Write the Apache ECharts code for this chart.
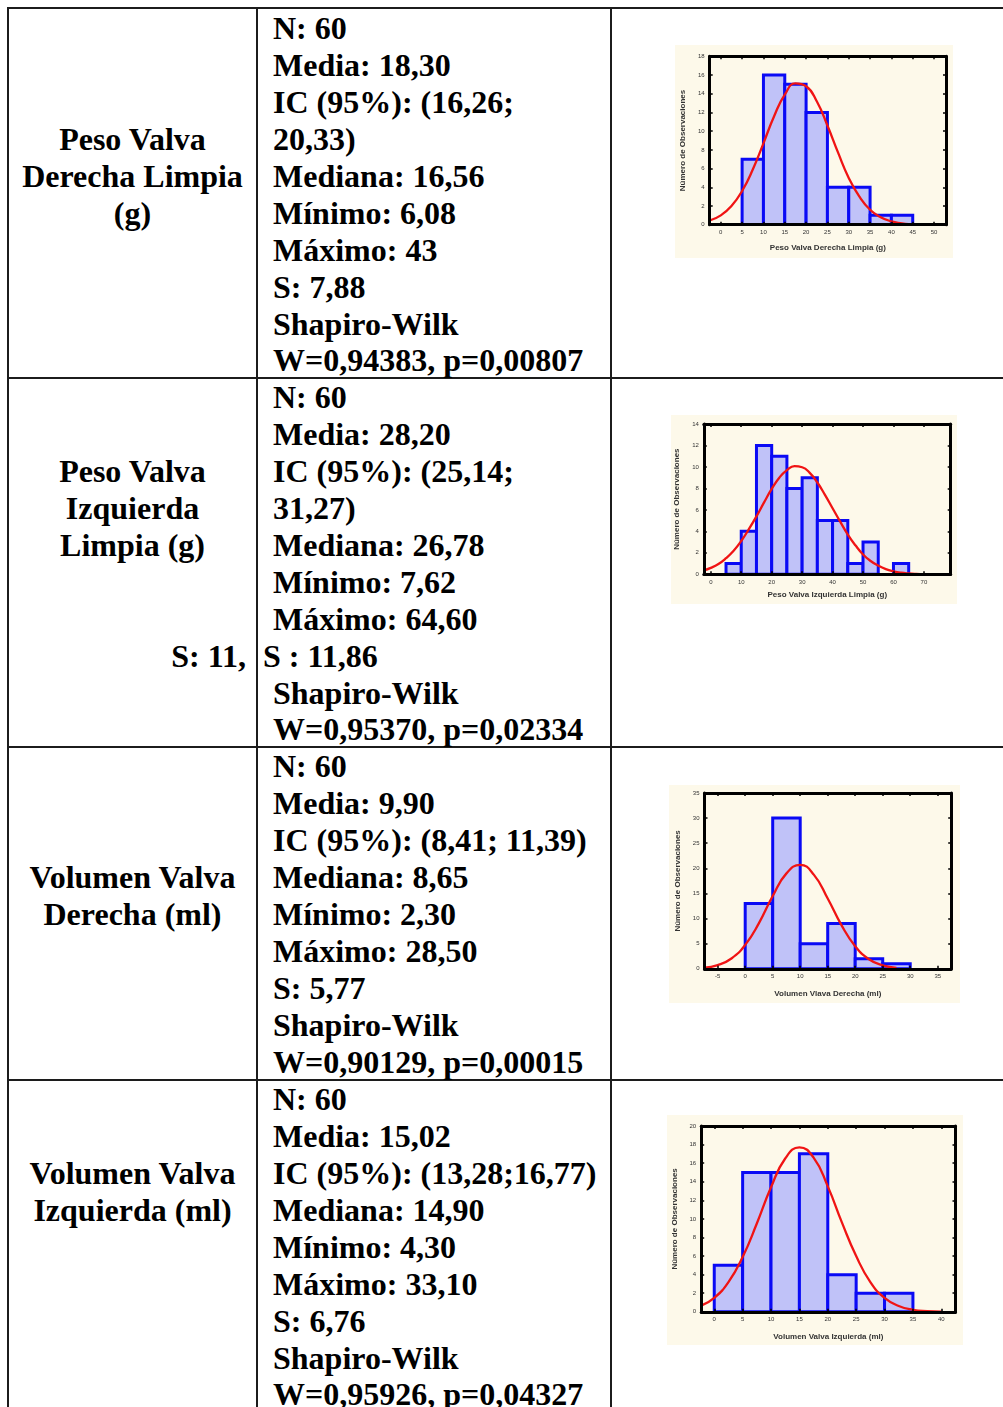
<!DOCTYPE html>
<html>
<head>
<meta charset="utf-8">
<script src="https://cdn.jsdelivr.net/npm/echarts@6/dist/echarts.min.js"></script>
<style>
  html, body { margin: 0; padding: 0; background: #fff; }
  body { width: 1003px; height: 1407px; position: relative; overflow: hidden; }
  .rule { position: absolute; background: #1c1c1c; }
  .line { position: absolute; font-family: "Liberation Serif", "Times New Roman", serif; font-weight: bold;
          font-size: 32px; line-height: 36.9px; height: 36.9px; color: #000; white-space: pre; }
  .plot { position: absolute; background: #fdf9ea; }
</style>
</head>
<body>
<div id="page"></div>
<script>
// ---- statistics text (middle column) ----
const statsPVD = ["N: 60", "Media: 18,30", "IC (95%): (16,26;", "20,33)", "Mediana: 16,56", "Mínimo: 6,08",
                  "Máximo: 43", "S: 7,88", "Shapiro-Wilk", "W=0,94383, p=0,00807"];
const statsPVI = ["N: 60", "Media: 28,20", "IC (95%): (25,14;", "31,27)", "Mediana: 26,78", "Mínimo: 7,62",
                  "Máximo: 64,60", "S : 11,86", "Shapiro-Wilk", "W=0,95370, p=0,02334"];
const statsVVD = ["N: 60", "Media: 9,90", "IC (95%): (8,41; 11,39)", "Mediana: 8,65", "Mínimo: 2,30",
                  "Máximo: 28,50", "S: 5,77", "Shapiro-Wilk", "W=0,90129, p=0,00015"];
const statsVVI = ["N: 60", "Media: 15,02", "IC (95%): (13,28;16,77)", "Mediana: 14,90", "Mínimo: 4,30",
                  "Máximo: 33,10", "S: 6,76", "Shapiro-Wilk", "W=0,95926, p=0,04327"];

// ---- variable names (left column), blank entries keep line alignment ----
const namePVD = ["", "", "", "Peso Valva", "Derecha Limpia", "(g)"];
const namePVI = ["", "", "Peso Valva", "Izquierda", "Limpia (g)"];
const extraPVI = "S: 11,";
const nameVVD = ["", "", "", "Volumen Valva", "Derecha (ml)"];
const nameVVI = ["", "", "Volumen Valva", "Izquierda (ml)"];

// ---- histograms: left bin edges and counts (bin width 5) ----
const binWidth = 5;
const leftsPVD = [5, 10, 15, 20, 25, 30, 35, 40];
const countsPVD = [7, 16, 15, 12, 4, 4, 1, 1];
const leftsPVI = [5, 10, 15, 20, 25, 30, 35, 40, 45, 50, 55, 60];
const countsPVI = [1, 4, 12, 11, 8, 9, 5, 5, 1, 3, 0, 1];
const leftsVVD = [0, 5, 10, 15, 20, 25];
const countsVVD = [13, 30, 5, 9, 2, 1];
const leftsVVI = [0, 5, 10, 15, 20, 25, 30];
const countsVVI = [5, 15, 15, 17, 4, 2, 2];

// ---- fitted normal curves, as read point by point ----
const curvePVD = [[-2.6, 0.45], [0, 1.0], [2.5, 2.0], [5, 3.6], [7.5, 5.9], [10, 8.7], [12.5, 11.6], [15, 13.9],
  [17.5, 15.1], [20, 14.8], [22.5, 13.2], [25, 10.6], [27.5, 7.7], [30, 5.0], [32.5, 3.0], [35, 1.6],
  [37.5, 0.8], [40, 0.35], [42.5, 0.15], [44, 0.07]];
const curvePVI = [[-2.3, 0.37], [0, 0.6], [2.5, 0.96], [5, 1.5], [7.5, 2.2], [10, 3.1], [12.5, 4.2], [15, 5.4],
  [17.5, 6.7], [20, 7.95], [22.5, 9.0], [25, 9.7], [27.5, 10.07], [30, 9.97], [32.5, 9.45], [35, 8.55],
  [37.5, 7.4], [40, 6.15], [42.5, 4.9], [45, 3.7], [47.5, 2.7], [50, 1.85], [52.5, 1.24], [55, 0.8],
  [57.5, 0.48], [60, 0.28], [62.5, 0.15], [65, 0.08], [67.5, 0.04], [70, 0.02]];
const curveVVD = [[-7.4, 0.23], [-5, 0.74], [-2.5, 2.06], [0, 4.76], [2.5, 9.1], [5, 14.5], [7.5, 19.0],
  [10, 20.7], [12.5, 18.7], [15, 14.0], [17.5, 8.7], [20, 4.5], [22.5, 1.9], [25, 0.68], [27.5, 0.2]];
const curveVVI = [[-2.3, 0.66], [0, 1.5], [2.5, 3.2], [5, 5.9], [7.5, 9.5], [10, 13.4], [12.5, 16.5], [15, 17.7],
  [17.5, 16.6], [20, 13.5], [22.5, 9.6], [25, 6.0], [27.5, 3.2], [30, 1.5], [32.5, 0.63], [35, 0.22],
  [37.5, 0.07], [40, 0.02]];

// ---- axis tick labels ----
const xTicksPVD = [0, 5, 10, 15, 20, 25, 30, 35, 40, 45, 50];
const xTicksPVI = [0, 10, 20, 30, 40, 50, 60, 70];
const xTicksVVD = [-5, 0, 5, 10, 15, 20, 25, 30, 35];
const xTicksVVI = [0, 5, 10, 15, 20, 25, 30, 35, 40];
const yTitle = "Número de Observaciones";
const xTitlePVD = "Peso Valva Derecha Limpia (g)";
const xTitlePVI = "Peso Valva Izquierda Limpia (g)";
const xTitleVVD = "Volumen Vlava Derecha (ml)";
const xTitleVVI = "Volumen Valva Izquierda (ml)";

// ================= table layout =================
const page = document.getElementById('page');
function rule(x, y, w, h) {
  const d = document.createElement('div');
  d.className = 'rule';
  Object.assign(d.style, { left: x + 'px', top: y + 'px', width: w + 'px', height: h + 'px' });
  page.appendChild(d);
}
rule(7, 7, 996, 2);          // top edge
rule(7, 7, 2, 1400);         // left edge
rule(256, 7, 2, 1400);       // column separators
rule(610, 7, 2, 1400);
rule(7, 377, 996, 2);        // row separators
rule(7, 746, 996, 2);
rule(7, 1079, 996, 2);

const PITCH = 36.9;
function textLine(str, top, css) {
  const d = document.createElement('div');
  d.className = 'line';
  d.textContent = str;
  d.style.top = top + 'px';
  Object.assign(d.style, css);
  page.appendChild(d);
  return d;
}
function rowBlock(top, names, stats, statsShift) {
  names.forEach((s, i) => {
    if (s) textLine(s, top + i * PITCH, { left: '9px', width: '247px', textAlign: 'center' });
  });
  stats.forEach((s, i) => {
    const x = (statsShift && statsShift[i]) ? statsShift[i] : 273;
    textLine(s, top + i * PITCH, { left: x + 'px' });
  });
}
const rowTops = [10.3, 379.3, 748.3, 1081.2];
rowBlock(rowTops[0], namePVD, statsPVD);
rowBlock(rowTops[1], namePVI, statsPVI, { 7: 263 });
textLine(extraPVI, rowTops[1] + 7 * PITCH, { left: '9px', width: '237px', textAlign: 'right' });
rowBlock(rowTops[2], nameVVD, statsVVD);
rowBlock(rowTops[3], nameVVI, statsVVI);

// ================= histograms =================
const SANS = '"Liberation Sans", Arial, sans-serif';
function makePanel(x, y, w, h) {
  const d = document.createElement('div');
  d.className = 'plot';
  Object.assign(d.style, { left: x + 'px', top: y + 'px', width: w + 'px', height: h + 'px' });
  page.appendChild(d);
  return d;
}

function histOption(c) {
  const bins = c.lefts.map((x0, i) => [x0, x0 + binWidth, c.counts[i]]);
  const frame = { show: true, onZero: false, lineStyle: { color: '#000', width: 3 } };
  const tickX = { show: true, inside: true, length: 3, lineStyle: { color: '#000', width: 1.5 }, customValues: c.xTicks };
  const tickY = { show: true, inside: true, length: 3, lineStyle: { color: '#000', width: 1.5 } };
  const labelStyle = { fontFamily: SANS, fontSize: 6, color: '#333' };
  return {
    animation: false,
    grid: Object.assign({ containLabel: false, outerBoundsMode: 'none' }, c.grid),
    xAxis: [
      { type: 'value', min: c.xMin, max: c.xMax, position: 'bottom', z: 10,
        name: c.xTitle, nameLocation: 'middle', nameGap: c.xGap,
        nameTextStyle: { fontFamily: SANS, fontSize: 8, fontWeight: 'bold', color: '#333' },
        axisLine: frame, axisTick: tickX,
        axisLabel: Object.assign({ customValues: c.xTicks, margin: 5 }, labelStyle),
        splitLine: { show: false } },
      { type: 'value', min: c.xMin, max: c.xMax, position: 'top', z: 10,
        axisLine: frame, axisTick: tickX, axisLabel: { show: false }, splitLine: { show: false } }
    ],
    yAxis: [
      { type: 'value', min: 0, max: c.yMax, interval: c.yStep, position: 'left', z: 10,
        name: yTitle, nameLocation: 'middle', nameRotate: 90, nameGap: c.yGap,
        nameTextStyle: { fontFamily: SANS, fontSize: 8, fontWeight: 'bold', color: '#333' },
        axisLine: frame, axisTick: tickY,
        axisLabel: Object.assign({ margin: 5 }, labelStyle),
        splitLine: { show: false } },
      { type: 'value', min: 0, max: c.yMax, interval: c.yStep, position: 'right', z: 10,
        axisLine: frame, axisTick: tickY, axisLabel: { show: false }, splitLine: { show: false } }
    ],
    series: [
      { type: 'custom', xAxisIndex: 0, yAxisIndex: 0, z: 2, clip: true, data: bins,
        renderItem: function (params, api) {
          const n = api.value(2);
          if (!n) return null;
          const p0 = api.coord([api.value(0), n]);
          const p1 = api.coord([api.value(1), 0]);
          return { type: 'rect',
            shape: { x: p0[0], y: p0[1], width: p1[0] - p0[0], height: p1[1] - p0[1] },
            style: { fill: '#c0c2f8', stroke: '#0a0af5', lineWidth: 3 } };
        } },
      { type: 'line', xAxisIndex: 0, yAxisIndex: 0, z: 3, data: c.curve, smooth: true,
        showSymbol: false, symbol: 'none', lineStyle: { color: '#f01414', width: 2.3 } }
    ]
  };
}

const charts = [
  { box: [675, 45, 278, 213], grid: { left: 34.7, top: 11.3, right: 7, bottom: 33.3 },
    lefts: leftsPVD, counts: countsPVD, curve: curvePVD, xTicks: xTicksPVD,
    xMin: -2.6, xMax: 52.8, yMax: 18, yStep: 2, xTitle: xTitlePVD, xGap: 19, yGap: 15 },
  { box: [671, 415, 286, 189], grid: { left: 32.8, top: 9, right: 6.3, bottom: 29.7 },
    lefts: leftsPVI, counts: countsPVI, curve: curvePVI, xTicks: xTicksPVI,
    xMin: -2.3, xMax: 78.8, yMax: 14, yStep: 2, xTitle: xTitlePVI, xGap: 16, yGap: 13 },
  { box: [669, 785, 291, 218], grid: { left: 35.5, top: 8, right: 8.8, bottom: 34.2 },
    lefts: leftsVVD, counts: countsVVD, curve: curveVVD, xTicks: xTicksVVD,
    xMin: -7.4, xMax: 37.45, yMax: 35, yStep: 5, xTitle: xTitleVVD, xGap: 21, yGap: 15.5 },
  { box: [667, 1115, 296, 230], grid: { left: 34.2, top: 11, right: 7.5, bottom: 33.2 },
    lefts: leftsVVI, counts: countsVVI, curve: curveVVI, xTicks: xTicksVVI,
    xMin: -2.3, xMax: 42.5, yMax: 20, yStep: 2, xTitle: xTitleVVI, xGap: 21, yGap: 16 }
];

charts.forEach(c => {
  const el = makePanel.apply(null, c.box);
  const chart = echarts.init(el, null, { renderer: 'canvas' });
  chart.setOption(histOption(c));
});
</script>
</body>
</html>
